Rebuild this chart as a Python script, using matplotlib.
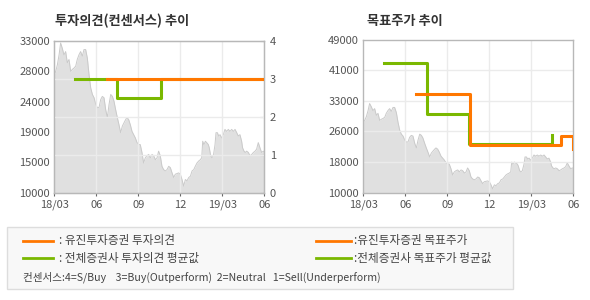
import numpy as np
import matplotlib
matplotlib.use("Agg")
import matplotlib.pyplot as plt
from matplotlib.patches import Rectangle
from matplotlib.lines import Line2D

plt.rcParams['font.family'] = ['Noto Sans CJK KR', 'DejaVu Sans']

# closing price, x = months since 18/03
price_month = [0.0, 0.10, 0.22, 0.34, 0.45, 0.57, 0.69, 0.81, 0.93, 1.05, 1.17, 1.29,
               1.41, 1.53, 1.64, 1.76, 1.88, 2.00, 2.12, 2.24, 2.36, 2.48, 2.60, 2.72,
               2.84, 2.96, 3.07, 3.19, 3.31, 3.43, 3.55, 3.67, 3.79, 3.91, 4.03, 4.15,
               4.26, 4.38, 4.50, 4.62, 4.74, 4.86, 4.98, 5.10, 5.19, 5.31, 5.43, 5.55,
               5.67, 5.79, 5.91, 6.03, 6.14, 6.26, 6.38, 6.50, 6.62, 6.74, 6.86, 6.98,
               7.10, 7.22, 7.34, 7.45, 7.57, 7.69, 7.81, 7.93, 8.05, 8.17, 8.29, 8.41,
               8.53, 8.64, 8.76, 8.88, 9.00, 9.12, 9.24, 9.36, 9.48, 9.60, 9.72, 9.84,
               9.96, 10.07, 10.19, 10.31, 10.43, 10.53, 10.60, 10.69, 10.79, 10.88, 11.00,
               11.07, 11.17, 11.26, 11.36, 11.48, 11.55, 11.65, 11.74, 11.84, 11.95, 12.07,
               12.19, 12.31, 12.43, 12.55, 12.67, 12.79, 12.91, 13.03, 13.14, 13.26, 13.38,
               13.45, 13.55, 13.64, 13.74, 13.86, 13.98, 14.10, 14.22, 14.34, 14.45, 14.57,
               14.69, 14.81, 14.93, 15.0]
price = [27900, 28400, 29400, 30900, 32700, 31900, 30900, 31400, 29700, 30200, 28400, 28700,
         28900, 29200, 30200, 30900, 31400, 30700, 31700, 31700, 30400, 27900, 25900, 24900,
         24400, 23400, 22900, 22900, 24100, 24600, 24400, 22600, 21400, 23400, 24900, 24600,
         23900, 22600, 21400, 20300, 19100, 20100, 20600, 21100, 21400, 21100, 20300, 19300,
         18800, 18300, 17600, 17300, 17300, 16100, 14500, 15300, 15600, 15800, 15300, 15800,
         15600, 15000, 15300, 16300, 15600, 14000, 13500, 13300, 13500, 14000, 13800, 13000,
         12300, 12800, 12900, 13000, 12800, 12000, 11000, 12000, 11800, 12300, 12500, 13300,
         13500, 14000, 14500, 14800, 15000, 15300, 17800, 17300, 17800, 17600, 17300,
         16800, 15600, 15300, 15600, 17300, 19100, 19100, 18600, 18800, 18300, 18800,
         19600, 19300, 19600, 19300, 19600, 19300, 19600, 19100, 18600, 18800, 17800,
         16800, 16300, 16100, 16300, 16100, 15600, 15800, 16100, 16300, 16600, 17600,
         16800, 16100, 16300, 16200]

# investment opinion (1~4)
yj_opinion_month = [3.79, 15.0]
yj_opinion = [3, 3]
avg_opinion_month = [1.5, 4.5, 7.62, 15.0]
avg_opinion = [3, 2.5, 3, 3]

# target price
yj_target_month = [3.76, 7.62, 14.1, 14.95]
yj_target = [35000, 22200, 24500, 21000]
avg_target_month = [1.5, 4.53, 7.57, 13.51]
avg_target = [43000, 30000, 22300, 24800]

month_ticks = [0, 3, 6, 9, 12, 15]
month_labels = ["18/03", "06", "09", "12", "19/03", "06"]
left_price_labels = ["10000", "15000", "19000", "24000", "28000", "33000"]
right_price_labels = ["10000", "18000", "26000", "33000", "41000", "49000"]
opinion_ticks = [0, 1, 2, 3, 4]

ORANGE = '#ff7700'
GREEN = '#7ab800'
FILL = '#e0e0e0'
EDGE = '#cacaca'
GRID = '#ebebeb'
SPINE = '#b8b8b8'
TXT = '#555555'

W, H = 590, 300
fig = plt.figure(figsize=(5.9, 3.0), dpi=100)


def px_axes(x0, y0, x1, y1):
        return fig.add_axes([x0 / W, 1 - y1 / H, (x1 - x0) / W, (y1 - y0) / H])


def style(ax, lo, hi, labels):
        ax.set_xlim(0, 15)
        ax.set_ylim(lo, hi)
        ax.fill_between(price_month, price, lo, color=FILL, lw=0, zorder=1)
        ax.plot(price_month, price, color=EDGE, lw=0.7, zorder=1.2)
        for m in month_ticks[1:-1]:
                ax.axvline(m, color=GRID, lw=1, zorder=2)
        ax.set_xticks(month_ticks)
        ax.set_xticklabels(month_labels)
        ax.set_yticks(np.linspace(lo, hi, 6))
        ax.set_yticklabels(labels)
        ax.tick_params(axis='x', length=2, width=0.8, color='#666666', pad=3,
                       labelsize=8, labelcolor=TXT)
        ax.tick_params(axis='y', length=0, pad=3, labelsize=8, labelcolor=TXT)
        for s in ax.spines.values():
                s.set_color(SPINE)
                s.set_linewidth(1)


# left: opinion chart
ax1 = px_axes(54.3, 41, 264.3, 192.7)
style(ax1, 10000, 33000, left_price_labels)
ax2 = ax1.twinx()
ax2.set_ylim(0, 4)
ax2.set_yticks(opinion_ticks)
ax2.tick_params(axis='y', direction='in', length=3, color='#999999', pad=4,
                labelsize=8, labelcolor=TXT)
for v in opinion_ticks[1:-1]:
        ax2.axhline(v, color=GRID, lw=1, zorder=2)
ax2.step(avg_opinion_month, avg_opinion, where='post', color=GREEN, lw=2.2, zorder=3)
ax2.step(yj_opinion_month, yj_opinion, where='post', color=ORANGE, lw=2.2, zorder=4)
for s in ax2.spines.values():
        s.set_color(SPINE)
fig.text(55 / W, 1 - 21 / H, "투자의견(컨센서스) 추이", fontsize=9.5, fontweight='bold',
         color='#333333', va='center')

# right: target price chart
ax3 = px_axes(363.3, 39.5, 573.3, 192.7)
style(ax3, 10000, 49000, right_price_labels)
for v in np.linspace(10000, 49000, 6)[1:-1]:
        ax3.axhline(v, color=GRID, lw=1, zorder=2)
ax3.step(avg_target_month, avg_target, where='post', color=GREEN, lw=2.2, zorder=3)
ax3.step(yj_target_month, yj_target, where='post', color=ORANGE, lw=2.2, zorder=4)
fig.text(367 / W, 1 - 21 / H, "목표주가 추이", fontsize=9.5, fontweight='bold',
         color='#333333', va='center')

# legend box
fig.patches.append(Rectangle((7 / W, 1 - 289 / H), 506 / W, 62 / H, transform=fig.transFigure,
                             facecolor='#f8f8f8', edgecolor='#dddddd', lw=1, zorder=0))
legend_rows = [
        (23, 53, 59, 240.7, ORANGE, ": 유진투자증권 투자의견"),
        (23, 53, 59, 258.3, GREEN, ": 전체증권사 투자의견 평균값"),
        (316, 351, 354, 240.7, ORANGE, ":유진투자증권 목표주가"),
        (316, 351, 354, 258.3, GREEN, ":전체증권사 목표주가 평균값"),
]
for x0, x1, tx, y, c, label in legend_rows:
        fig.lines.append(Line2D([x0 / W, x1 / W], [1 - y / H, 1 - y / H],
                                transform=fig.transFigure, color=c, lw=2))
        fig.text(tx / W, 1 - y / H, label, fontsize=8.4, color='#444444', va='center')
fig.text(23 / W, 1 - 277.3 / H,
         "컨센서스:4=S/Buy    3=Buy(Outperform)  2=Neutral   1=Sell(Underperform)",
         fontsize=7.6, color='#444444', va='center')

fig.savefig("out.png", dpi=100)
